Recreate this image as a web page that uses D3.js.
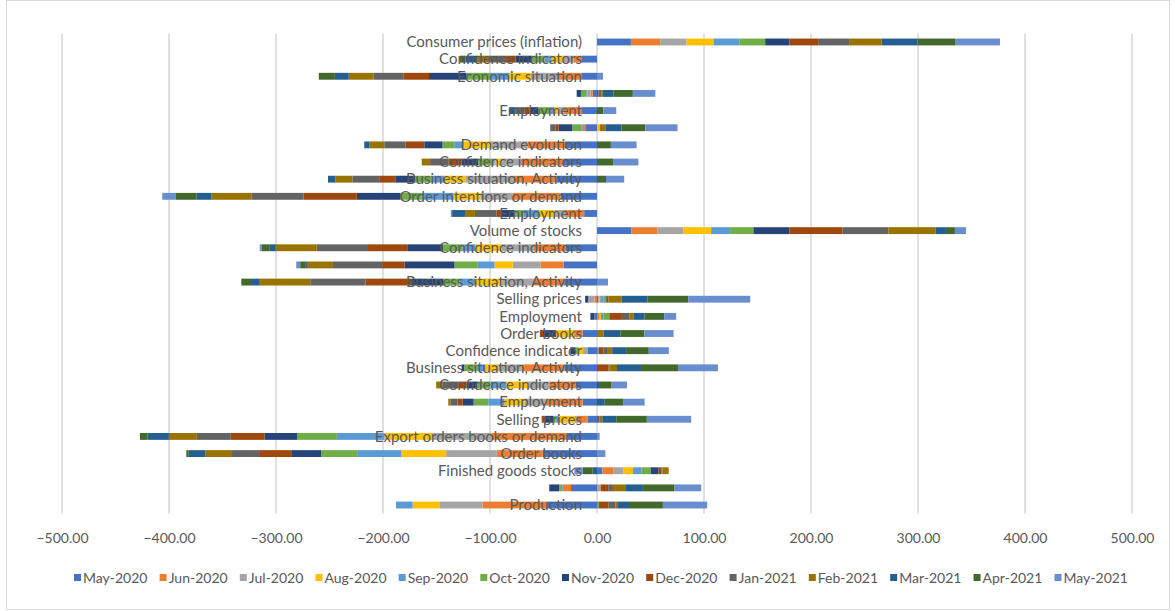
<!DOCTYPE html>
<html>
<head>
<meta charset="utf-8">
<script src="https://cdn.jsdelivr.net/npm/d3@7"></script>
<style>
  body { margin: 0; background: #fff; }
  text { font-family: Lato, "Open Sans", sans-serif; fill: #595959; }
</style>
</head>
<body>
<svg id="chart" width="1175" height="611"></svg>
<script>
// categories, top to bottom (blank ones have no label in the source)
var categories = [
  "Consumer prices (inflation)", "Confidence indicators", "Economic situation", "",
  "Employment", "", "Demand evolution", "Confidence indicators",
  "Business situation, Activity", "Order intentions or demand", "Employment", "Volume of stocks",
  "Confidence indicators", "", "Business situation, Activity", "Selling prices",
  "Employment", "Order books", "Confidence indicator", "Business situation, Activity",
  "Confidence indicators", "Employment", "Selling prices", "Export orders books or demand",
  "Order books", "Finished goods stocks", "", "Production"
];

var seriesNames = ["May-2020", "Jun-2020", "Jul-2020", "Aug-2020", "Sep-2020", "Oct-2020", "Nov-2020",
  "Dec-2020", "Jan-2021", "Feb-2021", "Mar-2021", "Apr-2021", "May-2021"];

var colors = ["#4472C4", "#ED7D31", "#A5A5A5", "#FFC000", "#5B9BD5", "#70AD47", "#264478",
  "#9E480E", "#636363", "#997300", "#255E91", "#43682B", "#698ED0"];

var may2020 = [31.7, -14, -14, -4, -14, -10.3, -30, -31, -38, -34, -12, 32, -29, -31.1, -30.7, 1.5, -2.5, -13.4, -9, -30.5, -19.7, -13.4, -8.7, -28.6, -50.7, 5, -24.3, -47];
var jun2020 = [27.4, -8, -23, -2, -17, -3, -35, -40, -40, -45, -18, 24.6, -30, -21.8, -28, -2.5, 1.9, -8, 0, -40, -25, -34.5, -10, -70, -43, 10.6, -7.8, -60];
var jul2020 = [24.6, -9, -25, -3, -5, 0, -35, -18.7, -45, -30, -10, 24.3, -30, -25.8, -30, -5.6, 0, 0, -4, -21.8, -20, -20, -2, -55, -47.3, 9.3, 3.4, -39.8];
var aug2020 = [25.2, -12, -20, 0, -4, 2.5, -25, -6, -20, -25, -14, 25.8, -25, -17.1, -25, 1.5, 1.8, -17, -5, -12.4, -20, -18.7, -15, -45, -42, 8.7, 0, -25.5];
var sep2020 = [24.3, -6, -18, -1, -4, -1.5, -8.4, -3, -12, -30, -15, 17.7, -12, -15.6, -15, 3, 2.5, 0, 1.5, -7.8, -15, -15, -3, -44.5, -40.5, 7.8, -1.6, -15.6];
var oct2020 = [24.0, -12, -22, -5, -11, -8.4, -11, -12.4, -15, -20, -8, 21.8, -18, -21.8, -15, 2.5, 5.3, 0, -2, -11.5, -12, -13.7, -2, -37.3, -34.2, 8.7, -1.6, 1.9];
var nov2020 = [22.7, -15, -35, -4, -8, -12.8, -17, -15.5, -18, -40.5, -12.4, 33.6, -32.7, -46.7, -30, -3, -3.7, -12, -5, -2.5, -10, -10.3, -8, -30.2, -27.4, 7.5, -9.3, 0];
var dec2020 = [26.8, -9, -24, 1.5, -5, -3, -17.4, -12.4, -15.6, -49.8, -4.7, 49.5, -37.3, -20.9, -42.6, 0, 11.8, -3, 4.7, 10.9, -8, -4.7, -3, -31.7, -29.9, 2.5, 7.5, 9];
var jan2021 = [28.9, -16, -28, 2.5, -8, -4.7, -20, -17, -25, -48.6, -20, 43, -47.9, -46, -51.7, 2, 6.8, 0, 4, 0.8, -15, -6.8, 2.5, -31.7, -26.1, 1, 4, 6.5];
var feb2021 = [30.5, -11, -23, 1.5, 0, 5.3, -13.7, -7.8, -16, -37.3, -9.3, 44.2, -38.3, -24.3, -47.9, 12.5, 4, 6.2, 4, 7, -5.6, -1.9, 2.5, -26.1, -24.9, 5.9, 11.5, 2.2];
var mar2021 = [33.3, -11, -13, 10, -6, 15, -5, 0, -6.8, -14, -12, 9.6, -5.6, -1.6, -6.5, 24, 10.3, 15.6, 13, 22.4, 1.9, 7.2, 13, -19.9, -15.6, -4, 16.5, 10.3];
var apr2021 = [35.2, -5, -15, 18, 6, 22.4, 13, 15, 8.4, -19.3, 0, 8.4, -7.8, -4.7, -10, 38.3, 18.4, 22.4, 21.2, 34.6, 11.8, 17.7, 28.6, -7.2, -2.2, -9.3, 29.6, 31.7];
var may2021 = [42, 0, 5.6, 21, 12, 30, 24, 23.7, 17, -12.8, -1.2, 10.3, -1.6, -3.7, 10.3, 57.9, 11.2, 27.4, 18.7, 37.3, 14.3, 19.6, 41.4, 2.5, 7.8, -7.8, 24.9, 41.4];

var seriesValues = [may2020, jun2020, jul2020, aug2020, sep2020, oct2020, nov2020,
  dec2020, jan2021, feb2021, mar2021, apr2021, may2021];

var tickValues = [-500, -400, -300, -200, -100, 0, 100, 200, 300, 400, 500];

// build table for d3.stack
var table = categories.map(function(c, i) {
  var row = { idx: i, name: c };
  seriesNames.forEach(function(s, j) { row[s] = seriesValues[j][i]; });
  return row;
});

var svg = d3.select("#chart");

// outer chart border
svg.append("rect")
  .attr("x", 6.5).attr("y", 0.5)
  .attr("width", 1163).attr("height", 609)
  .attr("fill", "none").attr("stroke", "#d9d9d9");

var x = d3.scaleLinear().domain([-500, 500]).range([62, 1132]);
var y = d3.scaleBand()
  .domain(d3.range(categories.length))
  .range([33.4, 513.6])
  .paddingInner(0.6)
  .paddingOuter(0.3);

// gridlines
svg.append("g").selectAll("line")
  .data(tickValues)
  .enter().append("line")
  .attr("x1", function(d) { return x(d); })
  .attr("x2", function(d) { return x(d); })
  .attr("y1", 33.4).attr("y2", 513.6)
  .attr("stroke", "#d9d9d9")
  .attr("stroke-width", 1.6);

var stack = d3.stack()
  .keys(seriesNames)
  .order(d3.stackOrderNone)
  .offset(d3.stackOffsetDiverging);

var layers = stack(table);

var bars = svg.append("g").selectAll("g")
  .data(layers)
  .enter().append("g")
  .attr("fill", function(d, i) { return colors[i]; });

bars.selectAll("rect")
  .data(function(d) { return d; })
  .enter().append("rect")
  .attr("x", function(d) { return x(Math.min(d[0], d[1])); })
  .attr("width", function(d) { return Math.abs(x(d[1]) - x(d[0])); })
  .attr("y", function(d) { return y(d.data.idx); })
  .attr("height", y.bandwidth());

// category labels, next to the zero line
svg.append("g").selectAll("text")
  .data(categories)
  .enter().append("text")
  .attr("x", x(0) - 15)
  .attr("y", function(d, i) { return y(i) + y.bandwidth() / 2; })
  .attr("dy", "0.35em")
  .attr("text-anchor", "end")
  .attr("font-size", 15)
  .text(function(d) { return d; });

// x axis labels
var axis = svg.append("g")
  .attr("transform", "translate(0,527)")
  .call(d3.axisBottom(x).tickValues(tickValues).tickFormat(d3.format(".2f")).tickSize(0).tickPadding(6));
axis.select(".domain").remove();
axis.selectAll("text").attr("font-size", 14).style("font-family", "Lato, sans-serif").attr("fill", "#595959");

// legend, spread over the same width as the original
var legend = svg.append("g").attr("transform", "translate(0,578)");
var items = legend.selectAll("g")
  .data(seriesNames)
  .enter().append("g");
items.append("rect")
  .attr("width", 7).attr("height", 7)
  .attr("y", -4)
  .attr("fill", function(d, i) { return colors[i]; });
items.append("text")
  .attr("x", 9)
  .attr("dy", "0.35em")
  .attr("font-size", 14)
  .text(function(d) { return d; });

var widths = [];
items.each(function() {
  widths.push(9 + d3.select(this).select("text").node().getComputedTextLength());
});
var total = 1054;
var gap = (total - d3.sum(widths)) / (widths.length - 1);
var cx = 74;
items.attr("transform", function(d, i) {
  var pos = cx;
  cx += widths[i] + gap;
  return "translate(" + pos + ",0)";
});
</script>
</body>
</html>
